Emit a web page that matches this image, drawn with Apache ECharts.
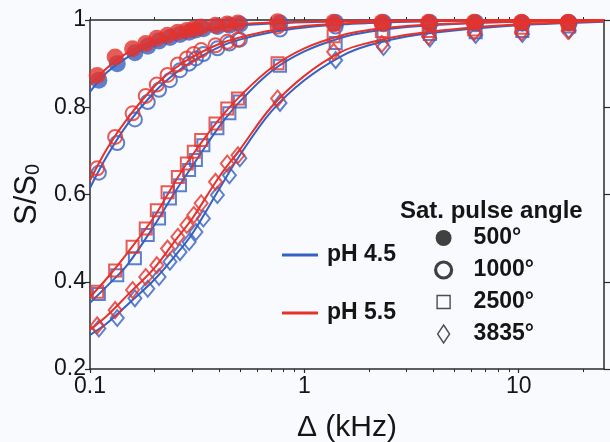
<!DOCTYPE html>
<html>
<head>
<meta charset="utf-8">
<script src="https://cdn.jsdelivr.net/npm/echarts/dist/echarts.min.js"></script>
<style>
html,body{margin:0;padding:0;background:#f9fafd;}
#chart{width:610px;height:442px;}
</style>
</head>
<body>
<div id="chart"></div>
<script>
// ---- data ----
const xRed = [0.108,0.131,0.158,0.182,0.205,0.23,0.257,0.283,0.305,0.33,0.385,0.437,0.49,0.75,1.37,2.3,3.8,6.2,10.3,17];
const xBlue = [0.11,0.134,0.162,0.186,0.21,0.236,0.263,0.29,0.312,0.338,0.393,0.447,0.5,0.77,1.4,2.34,3.85,6.3,10.4,17.2];

const red500  = [0.873,0.915,0.934,0.946,0.958,0.965,0.972,0.976,0.98,0.984,0.988,0.991,0.993,0.996,0.995,0.995,0.995,0.995,0.995,0.994];
const blue500 = [0.862,0.9,0.925,0.94,0.952,0.96,0.967,0.972,0.977,0.98,0.985,0.988,0.99,0.993,0.994,0.994,0.994,0.994,0.993,0.993];
const red1000  = [0.66,0.732,0.786,0.826,0.852,0.874,0.898,0.912,0.922,0.931,0.942,0.95,0.955,0.985,0.99,0.992,0.993,0.994,0.995,0.996];
const blue1000 = [0.65,0.718,0.772,0.812,0.84,0.862,0.885,0.9,0.912,0.922,0.935,0.946,0.955,0.978,0.985,0.99,0.99,0.99,0.992,0.995];
const red2500  = [0.377,0.426,0.48,0.522,0.564,0.605,0.64,0.671,0.698,0.725,0.763,0.797,0.82,0.901,0.963,0.975,0.975,0.978,0.982,0.99];
const blue2500 = [0.372,0.415,0.454,0.507,0.545,0.591,0.621,0.656,0.679,0.713,0.752,0.786,0.813,0.895,0.947,0.965,0.968,0.972,0.975,0.985];
const red3835  = [0.3,0.335,0.381,0.411,0.438,0.476,0.503,0.53,0.553,0.58,0.629,0.671,0.69,0.82,0.927,0.945,0.962,0.972,0.972,0.975];
const blue3835 = [0.293,0.317,0.362,0.384,0.411,0.446,0.468,0.491,0.514,0.545,0.599,0.644,0.683,0.81,0.908,0.938,0.958,0.966,0.968,0.976];

// fitted curves sampled at these offsets
const xFit = [0.1,0.12,0.15,0.2,0.25,0.3,0.4,0.5,0.7,1,1.5,2,3,5,10,25];
const fitBlue500  = [0.835,0.88,0.915,0.945,0.96,0.97,0.981,0.987,0.992,0.995,0.997,0.998,0.999,0.999,1,1];
const fitRed500   = [0.85,0.89,0.925,0.952,0.966,0.975,0.985,0.99,0.994,0.996,0.998,0.999,0.999,1,1,1];
const fitBlue1000 = [0.615,0.688,0.762,0.835,0.878,0.905,0.938,0.955,0.972,0.983,0.99,0.993,0.996,0.998,0.999,1];
const fitRed1000  = [0.632,0.705,0.775,0.848,0.89,0.915,0.945,0.96,0.976,0.986,0.992,0.995,0.997,0.998,0.999,1];
const fitBlue2500 = [0.352,0.39,0.44,0.53,0.607,0.665,0.755,0.813,0.882,0.928,0.96,0.973,0.984,0.991,0.996,0.998];
const fitRed2500  = [0.365,0.408,0.467,0.55,0.63,0.69,0.772,0.825,0.89,0.935,0.965,0.977,0.986,0.992,0.996,0.998];
const fitBlue3835 = [0.278,0.305,0.348,0.405,0.46,0.51,0.612,0.69,0.79,0.862,0.918,0.942,0.962,0.976,0.988,0.996];
const fitRed3835  = [0.29,0.322,0.37,0.432,0.495,0.545,0.64,0.703,0.8,0.872,0.928,0.948,0.966,0.979,0.99,0.997];

const xMajorTicks = [0.1, 1, 10];
const xMinorTicks = [0.2,0.3,0.4,0.5,0.6,0.7,0.8,0.9,2,3,4,5,6,7,8,9,20];
const angleNames = ['500°','1000°','2500°','3835°'];
const phNames = ['pH 4.5','pH 5.5'];

// ---- styling ----
const BLUE = '#3561c2';
const RED = '#e6322a';
const AX = '#2a2a2a';
const FONT = 'Liberation Sans, Arial, sans-serif';
const NONE = 'rgba(0,0,0,0)';

function pairs(xs, ys){ return xs.map((x,i)=>[x, ys[i]]); }

function fitSeries(name, color, ys, z){
  return {type:'line', name:name, data:pairs(xFit, ys), smooth:0.35, showSymbol:false, symbol:'none',
    lineStyle:{color:color, width:2}, itemStyle:{color:color}, z:z, silent:true, animation:false};
}
function markSeries(name, color, xs, ys, kind, z){
  const s = {type:'scatter', name:name, data:pairs(xs, ys), z:z, silent:true, animation:false};
  if(kind==='filled'){ s.symbol='circle'; s.symbolSize=17; s.itemStyle={color:color}; }
  else if(kind==='circle'){ s.symbol='circle'; s.symbolSize=14; s.itemStyle={color:NONE, borderColor:color, borderWidth:2}; }
  else if(kind==='rect'){ s.symbol='rect'; s.symbolSize=12; s.itemStyle={color:NONE, borderColor:color, borderWidth:2}; }
  else { s.symbol='diamond'; s.symbolSize=[13,16]; s.itemStyle={color:NONE, borderColor:color, borderWidth:2}; }
  return s;
}

const series = [
  fitSeries(phNames[0], BLUE, fitBlue500, 2),
  fitSeries(phNames[0], BLUE, fitBlue1000, 2),
  fitSeries(phNames[0], BLUE, fitBlue2500, 2),
  fitSeries(phNames[0], BLUE, fitBlue3835, 2),
  markSeries(angleNames[0], BLUE, xBlue, blue500, 'filled', 3),
  markSeries(angleNames[1], BLUE, xBlue, blue1000, 'circle', 3),
  markSeries(angleNames[2], BLUE, xBlue, blue2500, 'rect', 3),
  markSeries(angleNames[3], BLUE, xBlue, blue3835, 'diamond', 3),
  fitSeries(phNames[1], RED, fitRed500, 4),
  fitSeries(phNames[1], RED, fitRed1000, 4),
  fitSeries(phNames[1], RED, fitRed2500, 4),
  fitSeries(phNames[1], RED, fitRed3835, 4),
  markSeries(angleNames[0], RED, xRed, red500, 'filled', 5),
  markSeries(angleNames[1], RED, xRed, red1000, 'circle', 5),
  markSeries(angleNames[2], RED, xRed, red2500, 'rect', 5),
  markSeries(angleNames[3], RED, xRed, red3835, 'diamond', 5)
];

const baseX = {type:'log', logBase:10, min:0.1, max:25, splitLine:{show:false}, minorTick:{show:false}, minorSplitLine:{show:false}};

const option = {
  backgroundColor:'#f9fafd',
  animation:false,
  textStyle:{fontFamily:FONT},
  grid:{left:90, right:6, top:20, bottom:73, containLabel:false, outerBoundsMode:'none'},
  title:{text:'Sat. pulse angle', left:400, top:199, padding:0,
    textStyle:{fontFamily:FONT, fontSize:24, fontWeight:'bold', color:'#151515'}},
  legend:[
    {data:phNames.map((n,i)=>({name:n, icon:'rect', itemStyle:{color:i?RED:BLUE, borderWidth:0}})),
     orient:'vertical', left:282, top:242, padding:0, itemWidth:36, itemHeight:3, itemGap:32, selectedMode:false,
     textStyle:{fontFamily:FONT, fontSize:23, fontWeight:'bold', color:'#151515', lineHeight:26, padding:[0,0,0,4]}},
    {data:[
      {name:angleNames[0], icon:'circle', itemStyle:{color:'#111', borderWidth:0}},
      {name:angleNames[1], icon:'circle', itemStyle:{color:NONE, borderColor:'#111', borderWidth:3.2}},
      {name:angleNames[2], icon:'path://M0,0M16,18M1.5,2.5h13v13h-13z', itemStyle:{color:NONE, borderColor:'#222', borderWidth:1.4}},
      {name:angleNames[3], icon:'path://M0,0M16,18M8,0L14,9L8,18L2,9z', itemStyle:{color:NONE, borderColor:'#222', borderWidth:1.4}}
     ],
     orient:'vertical', left:434, top:225, padding:0, itemWidth:16, itemHeight:18, itemGap:6, selectedMode:false,
     textStyle:{fontFamily:FONT, fontSize:23, fontWeight:'bold', color:'#151515', lineHeight:26, padding:[0,0,0,17]}}
  ],
  xAxis:[
    Object.assign({}, baseX, {position:'bottom',
      name:'Δ (kHz)', nameLocation:'middle', nameGap:44,
      nameTextStyle:{fontFamily:FONT, fontSize:30, color:'#151515'},
      axisLine:{show:true, lineStyle:{color:AX, width:1.5}},
      axisTick:{show:true, inside:false, length:4, customValues:xMajorTicks, lineStyle:{color:AX, width:1.2}},
      axisLabel:{show:true, customValues:xMajorTicks, margin:6, fontFamily:FONT, fontSize:23, color:'#151515',
        formatter:(v)=>String(+v.toPrecision(3))}}),
    Object.assign({}, baseX, {position:'bottom',
      axisLine:{show:false},
      axisTick:{show:true, inside:false, length:3, customValues:xMinorTicks, lineStyle:{color:AX, width:1}},
      axisLabel:{show:false}}),
    Object.assign({}, baseX, {position:'top',
      axisLine:{show:true, lineStyle:{color:AX, width:1.5}},
      axisTick:{show:true, inside:false, length:3, customValues:xMajorTicks.concat(xMinorTicks), lineStyle:{color:AX, width:1}},
      axisLabel:{show:false}})
  ],
  yAxis:[
    {type:'value', min:0.2, max:1, interval:0.2, position:'left',
     name:'{a|S/S}{b|0}', nameLocation:'middle', nameRotate:90, nameGap:44,
     nameTextStyle:{rich:{
       a:{fontFamily:FONT, fontSize:31, color:'#151515', lineHeight:34, verticalAlign:'bottom'},
       b:{fontFamily:FONT, fontSize:20, color:'#151515', lineHeight:30, verticalAlign:'bottom'}}},
     splitLine:{show:false},
     axisLine:{show:true, lineStyle:{color:AX, width:1.5}},
     axisTick:{show:true, inside:false, length:5, lineStyle:{color:AX, width:1.2}},
     axisLabel:{margin:4, fontFamily:FONT, fontSize:23, color:'#151515', formatter:(v)=>String(+v.toFixed(1))}},
    {type:'value', min:0.2, max:1, interval:0.2, position:'right',
     splitLine:{show:false},
     axisLine:{show:true, lineStyle:{color:AX, width:1.5}},
     axisTick:{show:true, inside:false, length:6, lineStyle:{color:AX, width:1.2}},
     axisLabel:{show:false}}
  ],
  series: series
};

const chart = echarts.init(document.getElementById('chart'), null, {renderer:'canvas'});
chart.setOption(option);
</script>
</body>
</html>
